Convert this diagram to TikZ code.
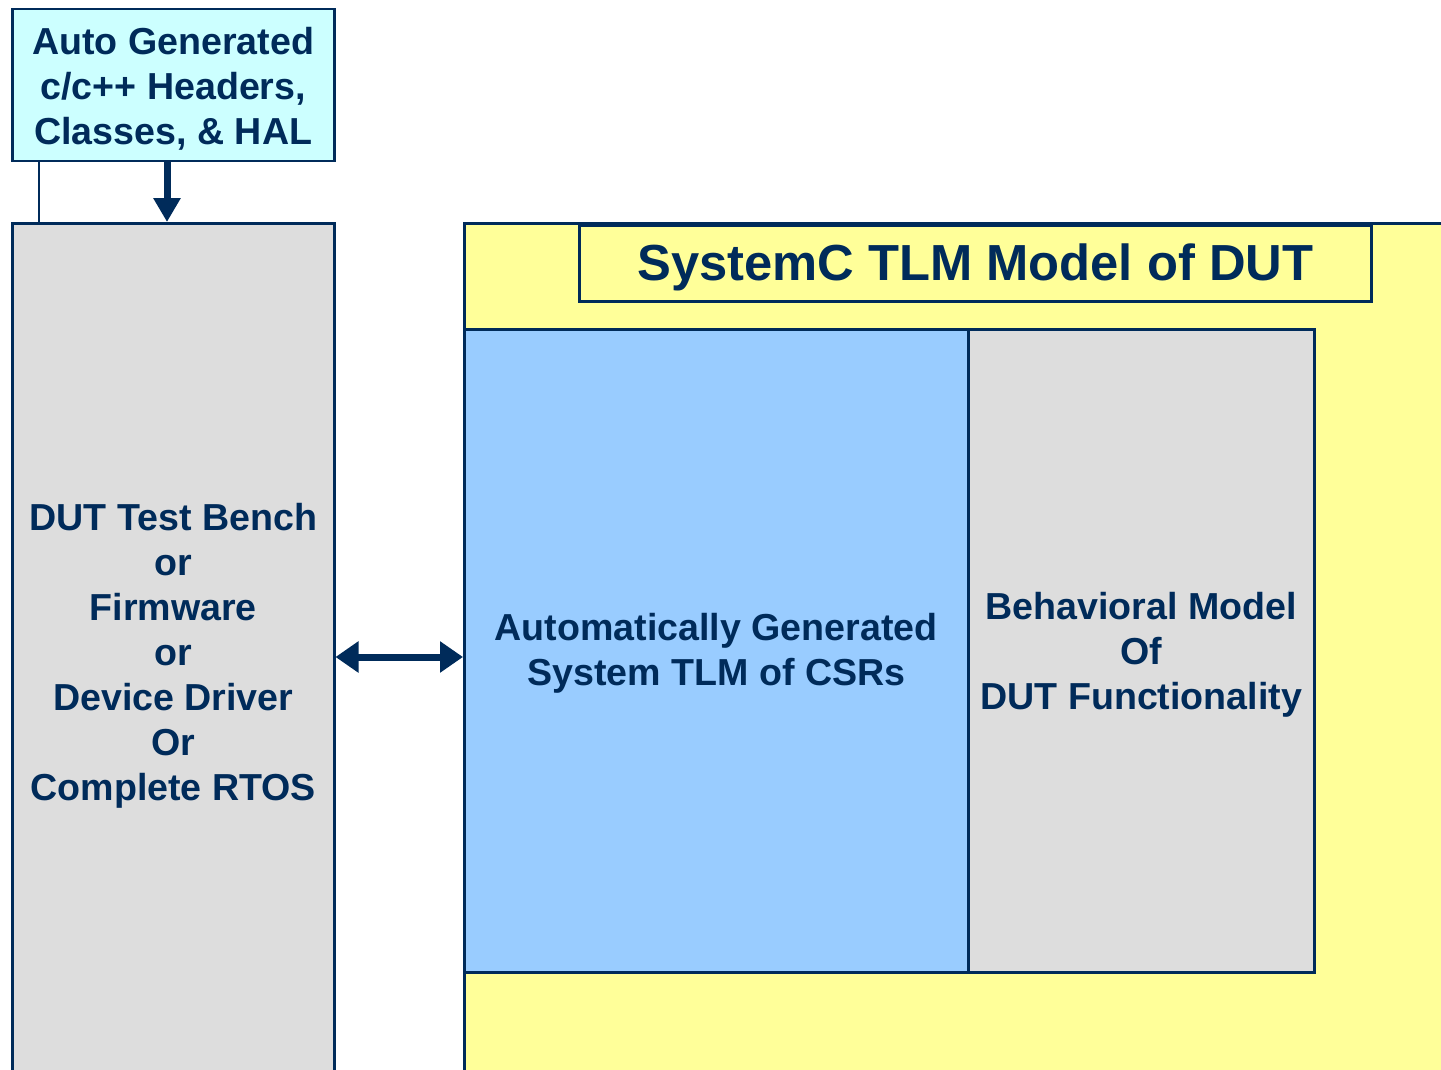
\documentclass[tikz,border=0pt]{standalone}
\usepackage{fontspec}
\setmainfont{Liberation Sans}
\usetikzlibrary{arrows.meta}
\definecolor{navy}{HTML}{002B5A}
\definecolor{cyanfill}{HTML}{CCFFFF}
\definecolor{grayfill}{HTML}{DDDDDD}
\definecolor{yellowfill}{HTML}{FFFF99}
\definecolor{bluefill}{HTML}{99CCFF}
\tikzset{
  boxbase/.style={draw=navy, line width=2.5pt, inner sep=0pt, anchor=north west},
  boxtext/.style={inner sep=0pt, align=center, text=navy,
    font=\bfseries\fontsize{37.6}{45}\selectfont},
  fatarrow/.style={navy, line width=7pt},
}
\begin{document}
\begin{tikzpicture}[x=1pt,y=-1pt]
\useasboundingbox (0,0) rectangle (1441,1070);
\clip (0,0) rectangle (1441,1070);
% yellow container
\node[boxbase, fill=yellowfill, minimum width=990pt, minimum height=860pt] (sysc) at (463,222) {};
% title box
\node[boxbase, fill=yellowfill, minimum width=792pt, minimum height=76pt] (title) at (578,224) {};
\node[boxtext, font=\bfseries\fontsize{50.7}{56}\selectfont] (titletext) at ([yshift=-4pt]title.center) {SystemC TLM Model of DUT};
% blue box
\node[boxbase, fill=bluefill, minimum width=504pt, minimum height=643pt] (csr) at (463,328) {};
\node[boxtext] (csrtext) at ([yshift=-3pt]csr.center) {Automatically Generated\\System TLM of CSRs};
% behavioral box
\node[boxbase, fill=grayfill, minimum width=346pt, minimum height=643pt] (beh) at (967,328) {};
\node[boxtext] (behtext) at ([yshift=-4pt]beh.center) {Behavioral Model\\Of\\DUT Functionality};
% left test bench box
\node[boxbase, fill=grayfill, minimum width=322pt, minimum height=858pt] (tb) at (11,222) {};
\node[boxtext] (tbtext) at ([yshift=-4pt]tb.center) {DUT Test Bench\\or\\Firmware\\or\\Device Driver\\Or\\Complete RTOS};
% top header box
\node[boxbase, fill=cyanfill, minimum width=322pt, minimum height=152pt] (hdr) at (11,8) {};
\node[boxtext] (hdrtext) at ([yshift=-4pt]hdr.center) {Auto Generated\\c/c++ Headers,\\Classes, \& HAL};
% thin line from header to test bench
\coordinate (thinA) at ([xshift=28pt]hdr.south west);
\coordinate (thinB) at ([xshift=28pt]tb.north west);
\draw[navy, line width=1.5pt] (thinA) -- (thinB);
% down arrow
\coordinate (dA) at ([xshift=156pt]hdr.south west);
\coordinate (dB) at ([xshift=156pt]tb.north west);
\draw[fatarrow, -{Triangle[length=24pt,width=26pt]}] (dA) -- (dB);
% double arrow
\coordinate (lA) at (tb.east |- 0,657);
\coordinate (lB) at (sysc.west |- 0,657);
\draw[fatarrow, {Triangle[length=23pt,width=30pt]}-{Triangle[length=23pt,width=30pt]}] (lA) -- (lB);
\end{tikzpicture}
\end{document}
